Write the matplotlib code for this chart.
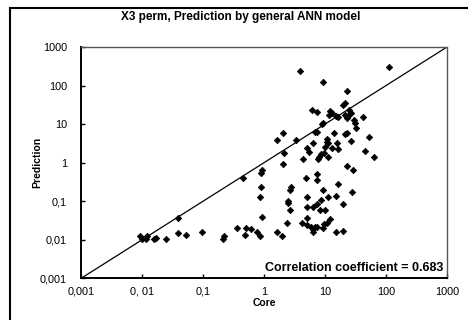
import numpy as np
import matplotlib.pyplot as plt
from matplotlib.patches import Rectangle

plt.rcParams['font.family'] = ['Liberation Sans', 'DejaVu Sans']

# values (core vs. ANN prediction)
core = [0.0093, 0.0100, 0.0116, 0.0121, 0.0157, 0.0170, 0.0247, 0.0389, 0.0389, 0.0526,
        0.096, 0.213, 0.221, 0.361, 0.488, 0.507, 0.612, 0.767, 0.859, 0.893,
        0.859, 0.927, 1.63, 1.97, 2.38, 2.47, 2.47, 2.67, 2.77, 2.67,
        5.07, 5.07, 4.20, 5.07, 5.07, 5.89, 6.36, 6.36, 7.39, 6.36,
        6.85, 7.39, 8.28, 10.0, 8.60, 9.63, 9.27, 10.8, 11.2, 12.1,
        15.1, 16.3, 15.1, 19.7, 19.7, 27.7, 7.39, 4.88, 1.63, 0.927,
        0.893, 0.453, 9.27, 22.9, 21.3, 19.7, 6.12, 7.39, 12.1, 13.0,
        11.6, 15.1, 16.3, 21.3, 22.9, 24.7, 26.7, 23.8, 29.9, 31.0,
        42.0, 32.2, 8.93, 9.27, 6.85, 7.39, 2.05, 3.35, 2.13, 14.1,
        21.3, 22.9, 15.7, 26.7, 52.6, 45.3, 63.5, 10.8, 10.8, 6.36,
        11.2, 10.0, 13.0, 16.3, 5.07, 5.47, 4.36, 7.97, 8.60, 11.2,
        7.67, 9.63, 2.05, 7.39, 22.9, 28.8, 9.27, 3.89, 112]
prediction = [0.0123, 0.0103, 0.0103, 0.0123, 0.0103, 0.0109, 0.0103, 0.036, 0.0147, 0.0131,
              0.0156, 0.0103, 0.0123, 0.0198, 0.0131, 0.0198, 0.0187, 0.0156, 0.0123, 0.228,
              0.133, 0.038, 0.0156, 0.0123, 0.027, 0.099, 0.088, 0.061, 0.241, 0.202,
              0.133, 0.069, 0.027, 0.036, 0.024, 0.022, 0.0187, 0.069, 0.083, 0.0156,
              0.021, 0.022, 0.061, 0.061, 0.105, 0.025, 0.0198, 0.028, 0.133, 0.034,
              0.141, 0.288, 0.0156, 0.0166, 0.083, 0.179, 0.366, 0.412, 3.95, 0.664,
              0.555, 0.412, 125, 73, 35.7, 31.7, 23.5, 20.9, 22.2, 19.7,
              17.5, 16.5, 15.5, 17.5, 14.6, 23.5, 19.7, 16.5, 13.0, 10.9,
              15.5, 8.07, 10.2, 10.9, 6.37, 6.37, 6.00, 3.95, 1.82, 6.00,
              5.65, 6.00, 3.31, 3.72, 4.72, 2.05, 1.44, 4.20, 3.51, 3.31,
              3.31, 2.61, 2.45, 2.31, 2.45, 1.94, 1.28, 1.44, 1.72, 1.44,
              1.28, 1.82, 0.948, 0.523, 0.841, 0.664, 0.202, 240, 304]

ticks = [0.001, 0.01, 0.1, 1, 10, 100, 1000]
x_labels = ['0,001', '0, 01', '0,1', '1', '10', '100', '1000']
y_labels = ['0,001', '0,01', '0,1', '1', '10', '100', '1000']
r_text = 'Correlation coefficient = 0.683'

fig = plt.figure(figsize=(4.68, 3.2), dpi=100)
ax = fig.add_axes([0.173, 0.13, 0.782, 0.723])

ax.plot([0.001, 1000], [0.001, 1000], color='black', lw=0.9)
ax.plot(core, prediction, linestyle='none', marker='D', markersize=3.3,
        color='black', markeredgewidth=0.5)

ax.set_xscale('log')
ax.set_yscale('log')
ax.set_xlim(0.001, 1000)
ax.set_ylim(0.001, 1000)
ax.set_xticks(ticks)
ax.set_xticklabels(x_labels)
ax.set_yticks(ticks)
ax.set_yticklabels(y_labels)
ax.minorticks_off()
ax.tick_params(direction='in', length=3, width=1, labelsize=7.8, colors='black')
ax.tick_params(axis='x', pad=6)
ax.tick_params(axis='y', pad=10)

ax.spines['left'].set_linewidth(1.4)
ax.spines['bottom'].set_linewidth(1.4)
for s in ['top', 'right']:
    ax.spines[s].set_linestyle((0, (1, 1)))
    ax.spines[s].set_linewidth(1.0)
    ax.spines[s].set_color('#555555')

ax.set_xlabel('Core', fontsize=7.5, fontweight='bold', labelpad=1)
ax.set_ylabel('Prediction', fontsize=7.5, fontweight='bold')
ax.yaxis.set_label_coords(-0.105, 0.5)
fig.text(0.515, 0.947, 'X3 perm, Prediction by general ANN model', ha='center', va='center',
         fontsize=8.5, fontweight='bold')
ax.text(0.99, 0.018, r_text, transform=ax.transAxes, ha='right', va='bottom',
        fontsize=9, fontweight='bold')

# outer chart frame
fig.patches.append(Rectangle((10 / 468, -0.05), 1.1, 1.025,
                             transform=fig.transFigure, fill=False, lw=1.5,
                             edgecolor='black'))

fig.savefig('out.png', dpi=100)
